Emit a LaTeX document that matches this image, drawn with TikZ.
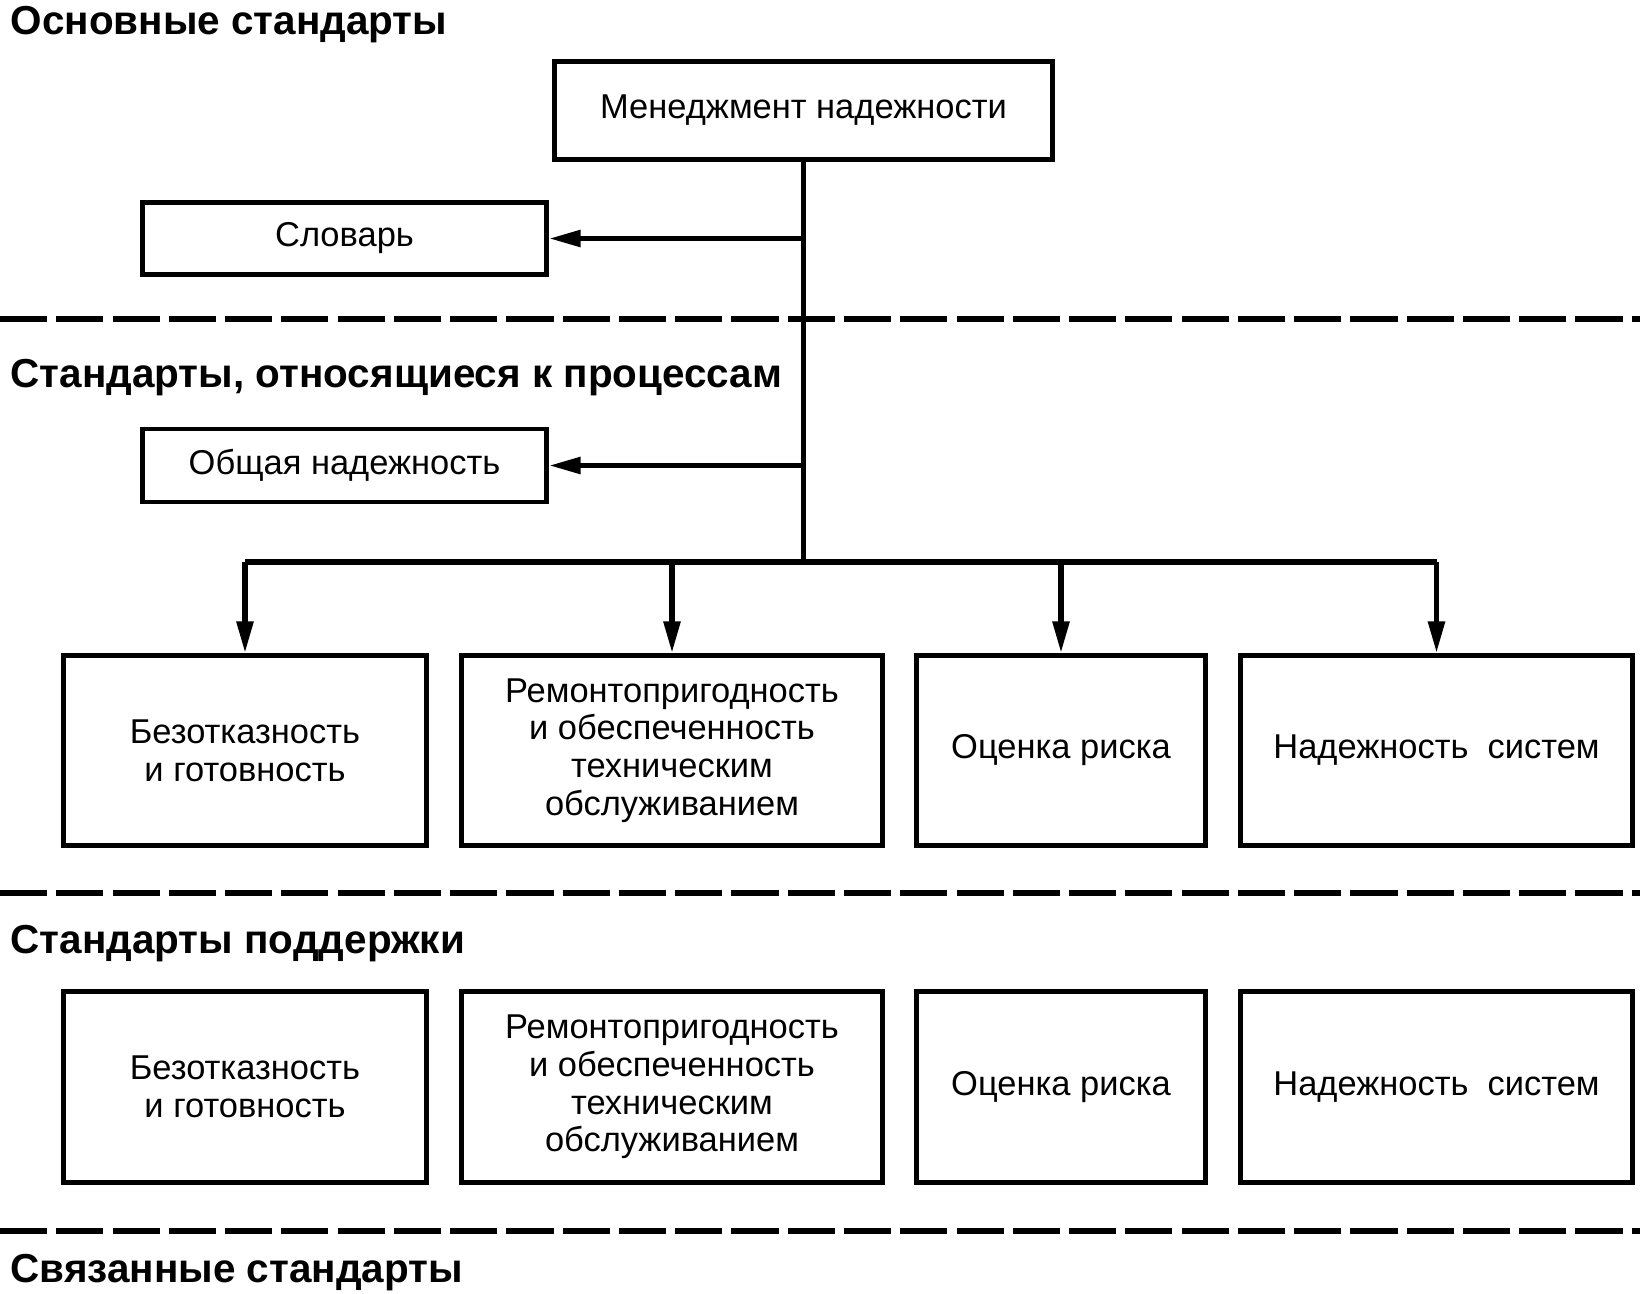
\documentclass[tikz,border=0pt]{standalone}
\usepackage{fontspec}
\setmainfont{Liberation Sans}
\usetikzlibrary{arrows.meta}

\newcommand{\boxfont}{\fontsize{9.8}{10.7}\selectfont}
\newcommand{\headfont}{\fontsize{11.5}{12.5}\selectfont\bfseries}

\tikzset{
  box/.style={draw, line width=1.4pt, align=center, inner sep=0pt, font=\boxfont},
  arr/.style={-{Triangle[length=9pt,width=4.6pt]}, line width=1.5pt},
  sepline/.style={line width=1.5pt, dash pattern=on 13.4pt off 2.6pt},
  head/.style={anchor=west, inner sep=0pt, font=\headfont}
}

\begin{document}
\begin{tikzpicture}[x=0.01cm, y=-0.01cm]

\useasboundingbox (0,0) rectangle (1642,1293);

\node[head] (h1) at (10,25) {Основные стандарты};
\node[head] (h2) at (10,378) {Стандарты, относящиеся к процессам};
\node[head] (h3) at (10,944) {Стандарты поддержки};
\node[head] (h4) at (10,1273) {Связанные стандарты};

\draw[sepline] (0,319) -- (1640,319);
\draw[sepline] (0,893) -- (1640,893);
\draw[sepline] (0,1231) -- (1640,1231);

\node[box, minimum width=4.98cm, minimum height=0.98cm] (mgmt) at (803.5,110.5) {Менеджмент надежности};
\node[box, minimum width=4.04cm, minimum height=0.72cm] (slov) at (344.5,238.5) {Словарь};
\node[box, minimum width=4.04cm, minimum height=0.73cm] (gen) at (344.5,465.5) {Общая надежность};

% processes
\node[box, minimum width=3.63cm, minimum height=1.90cm] (p1) at (245,750.5) {Безотказность\\и готовность};
\node[box, minimum width=4.21cm, minimum height=1.90cm] (p2) at (672,750.5) {Ремонтопригодность\\и обеспеченность\\техническим\\обслуживанием};
\node[box, minimum width=2.89cm, minimum height=1.90cm] (p3) at (1061,750.5) {Оценка риска};
\node[box, minimum width=3.92cm, minimum height=1.90cm] (p4) at (1436.5,750.5) {Надежность\ \ систем};

% support
\node[box, minimum width=3.63cm, minimum height=1.91cm] (s1) at (245,1087) {Безотказность\\и готовность};
\node[box, minimum width=4.21cm, minimum height=1.91cm] (s2) at (672,1087) {Ремонтопригодность\\и обеспеченность\\техническим\\обслуживанием};
\node[box, minimum width=2.89cm, minimum height=1.91cm] (s3) at (1061,1087) {Оценка риска};
\node[box, minimum width=3.92cm, minimum height=1.91cm] (s4) at (1436.5,1087) {Надежность\ \ систем};

\coordinate (bus) at (803.5,562);

\draw[line width=1.5pt] (mgmt.south) -- (bus);
\draw[arr] (mgmt.south |- slov.east) -- (slov.east);
\draw[arr] (mgmt.south |- gen.east) -- (gen.east);
\draw[line width=1.5pt] (p1.north |- bus) -- (p4.north |- bus);
\foreach \n in {p1,p2,p3,p4}
  \draw[arr] (\n.north |- bus) -- (\n.north);

\end{tikzpicture}
\end{document}
